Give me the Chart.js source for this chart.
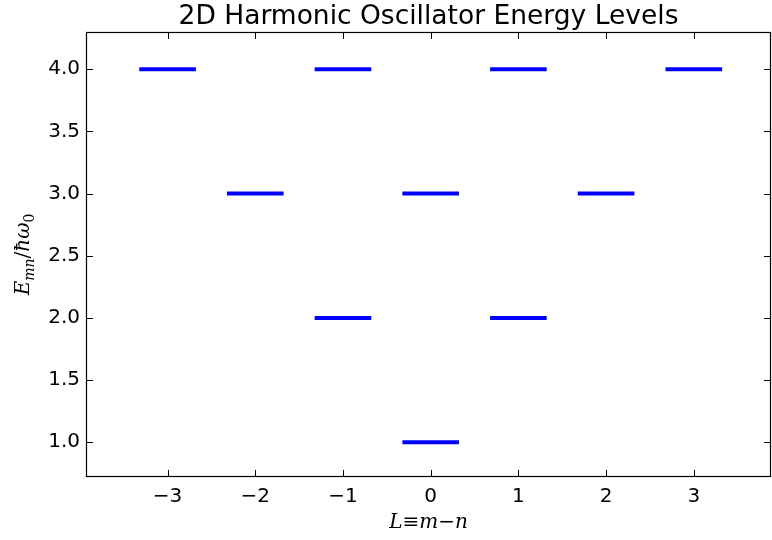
<!DOCTYPE html>
<html>
<head>
<meta charset="utf-8">
<script src="https://cdn.jsdelivr.net/npm/chart.js@4"></script>
<style>
  html, body { margin: 0; padding: 0; background: #fff; overflow: hidden; }
  #wrap { width: 772px; height: 540px; }
</style>
</head>
<body>
<div id="wrap"><canvas id="levels" width="772" height="540"></canvas></div>
<script>
// L = m - n and E/(hbar w0) = m + n + 1 for every state up to E = 4
const angMomentum = [0, -1, 1, -2, 0, 2, -3, -1, 1, 3];
const energies    = [1, 2, 2, 3, 3, 3, 4, 4, 4, 4];
const halfWidth = 0.3; // each level is drawn from L-0.3 to L+0.3

const xTicks = [-3, -2, -1, 0, 1, 2, 3];
const yTicks = [1.0, 1.5, 2.0, 2.5, 3.0, 3.5, 4.0];

const TICK_FONT = { family: 'DejaVu Sans', size: 20 };

const datasets = energies.map((e, i) => ({
  data: [
    { x: angMomentum[i] - halfWidth, y: e },
    { x: angMomentum[i] + halfWidth, y: e },
  ],
  showLine: true,
  borderColor: '#0000ff',
  borderWidth: 4,
  borderCapStyle: 'square',
  pointRadius: 0,
  pointHoverRadius: 0,
}));

// box, inward ticks on all four sides, title and axis labels
const framePlugin = {
  id: 'frame',
  afterDraw(chart) {
    const ctx = chart.ctx;
    const a = chart.chartArea;
    const xs = chart.scales.x, ys = chart.scales.y;
    ctx.save();
    ctx.strokeStyle = '#000';
    ctx.lineWidth = 1.2;
    ctx.strokeRect(a.left + 0.5, a.top + 0.5, a.right - a.left - 1, a.bottom - a.top - 1);

    const len = 7;
    ctx.lineWidth = 1;
    ctx.beginPath();
    xTicks.forEach(v => {
      const px = Math.round(xs.getPixelForValue(v)) + 0.5;
      ctx.moveTo(px, a.bottom); ctx.lineTo(px, a.bottom - len);
      ctx.moveTo(px, a.top); ctx.lineTo(px, a.top + len);
    });
    yTicks.forEach(v => {
      const py = Math.round(ys.getPixelForValue(v)) + 0.5;
      ctx.moveTo(a.left, py); ctx.lineTo(a.left + len, py);
      ctx.moveTo(a.right, py); ctx.lineTo(a.right - len, py);
    });
    ctx.stroke();

    // title
    ctx.fillStyle = '#000';
    ctx.font = '26.5px "DejaVu Sans"';
    ctx.textAlign = 'center';
    ctx.textBaseline = 'alphabetic';
    ctx.fillText('2D Harmonic Oscillator Energy Levels', (a.left + a.right) / 2, 24);

    // x label: L ≡ m−n
    const midX = (a.left + a.right) / 2;
    drawPieces(ctx, midX, 528, [
      { t: 'L', f: 'italic 20px "DejaVu Serif"' },
      { t: '≡', f: '20px "DejaVu Serif"' },
      { t: 'm', f: 'italic 20px "DejaVu Serif"' },
      { t: '−', f: '20px "DejaVu Serif"' },
      { t: 'n', f: 'italic 20px "DejaVu Serif"' },
    ]);

    // y label: E_mn / ħω_0, rotated
    ctx.translate(29, (a.top + a.bottom) / 2);
    ctx.rotate(-Math.PI / 2);
    drawPieces(ctx, 0, 0, [
      { t: 'E', f: 'italic 20px "DejaVu Serif"' },
      { t: 'mn', f: 'italic 14px "DejaVu Serif"', dy: 5 },
      { t: '/', f: '20px "DejaVu Serif"' },
      { t: 'ħ', f: 'italic 20px "DejaVu Serif"' },
      { t: 'ω', f: 'italic 20px "DejaVu Serif"' },
      { t: '0', f: '14px "DejaVu Serif"', dy: 5 },
    ]);
    ctx.restore();
  }
};

function drawPieces(ctx, cx, y, pieces) {
  let total = 0;
  pieces.forEach(p => { ctx.font = p.f; p.w = ctx.measureText(p.t).width; total += p.w; });
  let x = cx - total / 2;
  ctx.textAlign = 'left';
  ctx.textBaseline = 'alphabetic';
  pieces.forEach(p => {
    ctx.font = p.f;
    ctx.fillText(p.t, x, y + (p.dy || 0));
    x += p.w;
  });
}

new Chart(document.getElementById('levels').getContext('2d'), {
  type: 'scatter',
  data: { datasets },
  options: {
    responsive: false,
    animation: false,
    layout: { padding: { top: 32, right: 1, left: 0, bottom: 0 } },
    plugins: {
      legend: { display: false },
      tooltip: { enabled: false },
      title: { display: false },
    },
    scales: {
      x: {
        type: 'linear',
        min: -3.93,
        max: 3.88,
        afterFit(scale) { scale.height = 63; },
        afterBuildTicks(scale) { scale.ticks = xTicks.map(v => ({ value: v })); },
        grid: { display: false, drawTicks: false },
        border: { display: false },
        ticks: {
          font: TICK_FONT,
          color: '#000',
          padding: 8,
          maxRotation: 0,
          callback: v => String(v).replace('-', '−'),
        },
      },
      y: {
        type: 'linear',
        min: 0.72,
        max: 4.3,
        afterFit(scale) { scale.width = 86; },
        afterBuildTicks(scale) { scale.ticks = yTicks.map(v => ({ value: v })); },
        grid: { display: false, drawTicks: false },
        border: { display: false },
        ticks: {
          font: TICK_FONT,
          color: '#000',
          padding: 6,
          callback: v => v.toFixed(1),
        },
      },
    },
  },
  plugins: [framePlugin],
});
</script>
</body>
</html>
